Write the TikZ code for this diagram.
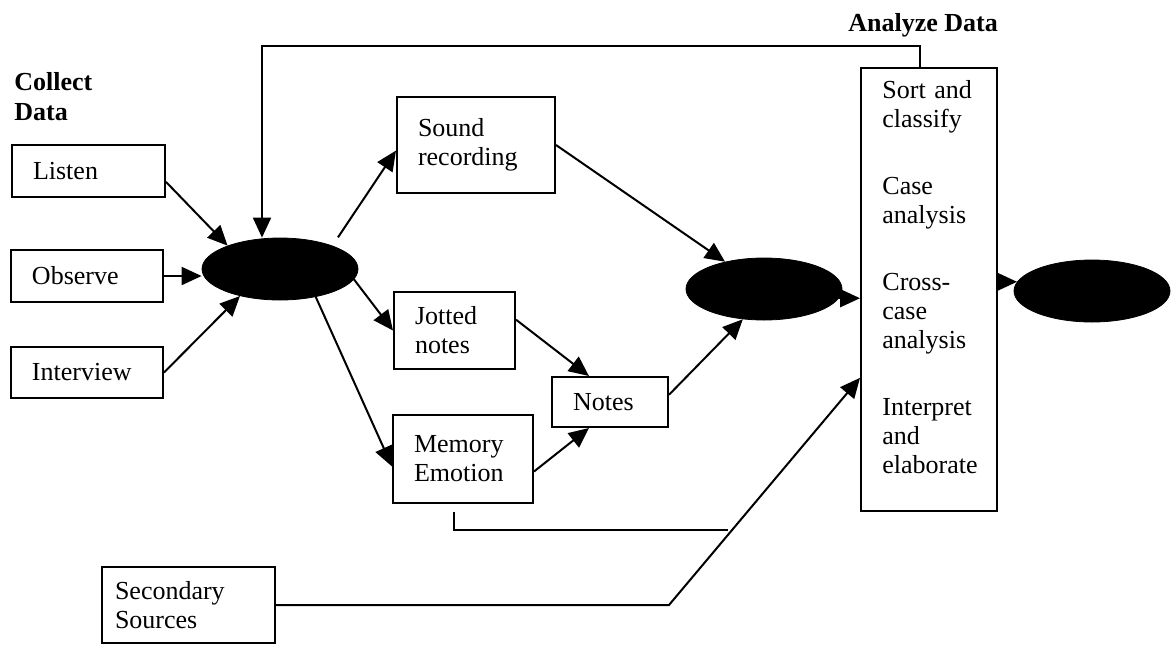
\documentclass[tikz,border=0pt]{standalone}
\usepackage{fontspec}
\setmainfont{Liberation Serif}
\usetikzlibrary{shapes.geometric,arrows.meta}
\hyphenpenalty=10000
\exhyphenpenalty=10000

\begin{document}
\begin{tikzpicture}[x=0.5pt,y=-0.5pt,
    font=\fontsize{13}{14.5}\selectfont,
    box/.style={draw,line width=1pt,align=left,inner xsep=10.5pt,inner ysep=0pt},
    blob/.style={ellipse,draw=black,fill=black,minimum width=78pt,minimum height=31pt,inner sep=0pt},
    head/.style={font=\fontsize{13}{15}\selectfont\bfseries,align=left,inner sep=0pt},
    >={Triangle[length=10pt,width=9pt]}]
    \useasboundingbox (0,0) rectangle (1173,644);

    \node[head,anchor=north west] (collectLbl) at (14,72) {Collect\\Data};
    \node[head,anchor=base west] (analyzeLbl) at (848,31) {Analyze Data};

    \node[box,text width=55.5pt,minimum height=26pt] (listen) at (88.5,171) {Listen};
    \node[box,text width=55pt,minimum height=26pt] (observe) at (87,276) {Observe};
    \node[box,text width=55pt,minimum height=25.5pt] (interview) at (87,372.5) {Interview};
    \node[box,text width=58pt,minimum height=48pt] (sound) at (476,145) {Sound\\recording};
    \node[box,text width=39.5pt,minimum height=38.5pt] (jotted) at (454.5,330.5) {Jotted\\notes};
    \node[box,text width=49pt,minimum height=44pt] (memory) at (463,459) {Memory\\Emotion};
    \node[box,text width=37pt,minimum height=25pt] (notes) at (610,402) {Notes};
    \node[box,minimum width=68pt,minimum height=221.5pt] (analysis) at (929,289.5) {};
    \node[align=left,inner sep=0pt,text width=52pt,anchor=north west] (analysisTxt) at (882,80)
        {Sort and\\classify\\[19pt]Case\\analysis\\[19pt]Cross-\\case\\analysis\\[19pt]Interpret\\and\\elaborate};
    \node[box,inner xsep=6.5pt,text width=73.5pt,minimum height=38pt] (secondary) at (188.5,605) {Secondary\\Sources};

    \node[blob] (gather) at (280,269) {};
    \node[blob] (merge) at (764,289) {};
    \node[blob] (result) at (1092,291) {};

    \coordinate (loopR) at (920,46);
    \coordinate (loopL) at (262,46);
    \coordinate (bend) at (669,605);
    \coordinate (memTop) at (454,512);
    \coordinate (memFoot) at (454,530);
    \coordinate (memEnd) at (728,530);

    \draw[line width=1pt,->] (listen.-8) -- (gather.156);
    \draw[line width=1pt,->] (observe.east) -- (observe.east -| gather.west);
    \draw[line width=1pt,->] (interview.east) -- (gather.214);
    \draw[line width=1pt,->] (analysis.north -| loopR) -- (loopR) -- (loopL) -- (loopL |- gather.north);

    \draw[line width=1pt,->,shorten <=5pt] (gather.24) -- (sound.184);
    \draw[line width=1pt,->] (gather.-8) -- (jotted.west);
    \draw[line width=1pt,->] (gather.-38) -- (memory.186);

    \draw[line width=1pt,->] (sound.east) -- (merge.145);
    \draw[line width=1pt,->] (jotted.10) -- (notes.129);
    \draw[line width=1pt,->] (memory.-10) -- (notes.231);
    \draw[line width=1pt,->] (notes.7) -- (merge.235);

    \draw[line width=1pt,->] (merge.-7) -- (merge.-7 -| analysis.west);
    \draw[line width=1pt,->] (analysis.east |- result.173) -- (result.173);

    \draw[line width=1pt,->] (secondary.east) -- (bend) -- (analysis.232);
    \draw[line width=1pt] (memTop) -- (memFoot) -- (memEnd);
\end{tikzpicture}
\end{document}
